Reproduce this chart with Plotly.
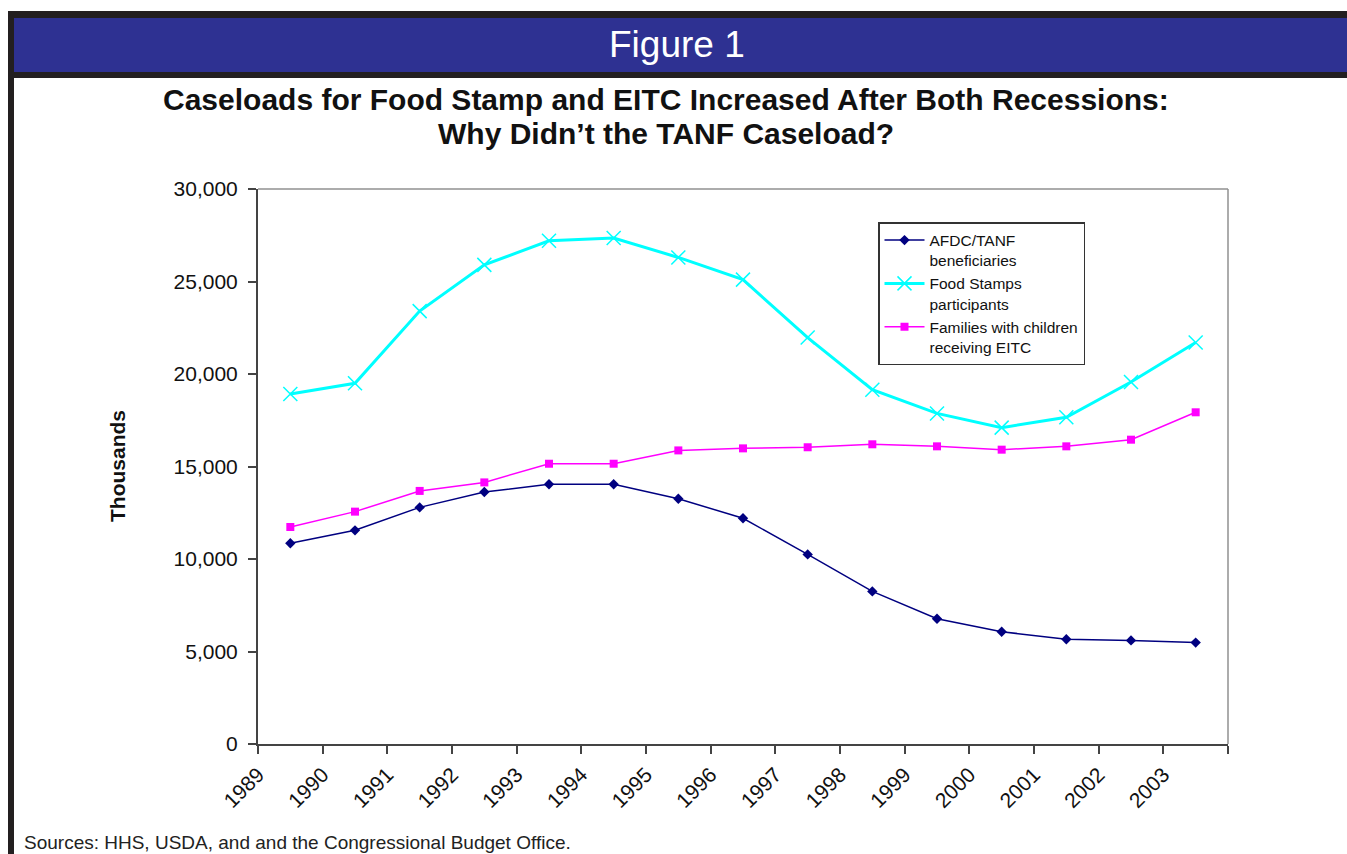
import plotly.graph_objects as go

# Fiscal years shown on the category axis
years = list(range(1989, 2004))

# Caseloads, in thousands
afdc_tanf = [10850, 11550, 12790, 13620, 14040, 14040, 13260, 12200,
             10250, 8250, 6770, 6070, 5660, 5600, 5480]
food_stamps = [18920, 19500, 23400, 25900, 27200, 27350, 26300, 25100,
               21970, 19150, 17870, 17100, 17660, 19570, 21700]
eitc_families = [11730, 12560, 13680, 14140, 15150, 15150, 15870, 15980,
                 16040, 16200, 16090, 15910, 16090, 16450, 17930]

y_ticks = [0, 5000, 10000, 15000, 20000, 25000, 30000]

# Plot-area geometry in pixels (used to place decorations in paper units)
W, H = 1347, 854
L, R, T, B = 258, 1228, 189, 744


def px(x):
    return (x - L) / (R - L)


def py(y):
    return (B - y) / (B - T)


# Each year occupies one slot between boundary ticks; points sit mid-slot
x_pos = [y + 0.5 for y in years]

fig = go.Figure()

fig.add_trace(go.Scatter(
    x=x_pos, y=afdc_tanf, mode="lines+markers",
    name="AFDC/TANF<br>beneficiaries",
    line=dict(color="#000080", width=1.5),
    marker=dict(symbol="diamond", size=8, color="#000080"),
))
fig.add_trace(go.Scatter(
    x=x_pos, y=food_stamps, mode="lines+markers",
    name="Food Stamps<br>participants",
    line=dict(color="#00FFFF", width=3),
    marker=dict(symbol="x-thin-open", size=14,
                line=dict(color="#00FFFF", width=1.5), color="#00FFFF"),
))
fig.add_trace(go.Scatter(
    x=x_pos, y=eitc_families, mode="lines+markers",
    name="Families with children<br>receiving EITC",
    line=dict(color="#FF00FF", width=1.5),
    marker=dict(symbol="square", size=8, color="#FF00FF"),
))

axis_font = dict(family="Liberation Sans, Arial, sans-serif", size=21, color="#111111")

fig.update_xaxes(
    range=[years[0], years[-1] + 1],
    tickmode="array",
    tickvals=years + [years[-1] + 1],
    ticktext=[str(y) for y in years] + [""],
    tickangle=-45,
    ticks="outside", ticklen=8, tickwidth=1.5, tickcolor="#444444",
    showline=True, linecolor="#444444", linewidth=2,
    showgrid=False, zeroline=False,
    tickfont=axis_font,
)
fig.update_yaxes(
    range=[0, 30000],
    tickmode="array",
    tickvals=y_ticks,
    ticktext=[f"{v:,}" for v in y_ticks],
    ticks="outside", ticklen=8, tickwidth=1.5, tickcolor="#444444",
    ticklabelstandoff=6,
    showline=True, linecolor="#444444", linewidth=2,
    showgrid=False, zeroline=False,
    tickfont=axis_font,
)

shapes = [
    # plot-area frame (top and right edges are lighter)
    dict(type="line", xref="paper", yref="paper", x0=0, x1=1, y0=1, y1=1,
         line=dict(color="#909090", width=1.5)),
    dict(type="line", xref="paper", yref="paper", x0=1, x1=1, y0=0, y1=1,
         line=dict(color="#909090", width=1.5)),
    # page frame: dark header border, blue banner, left rule
    dict(type="rect", xref="paper", yref="paper", layer="below",
         x0=px(8), x1=px(W + 5), y0=py(78), y1=py(11),
         fillcolor="#231F20", line=dict(width=0)),
    dict(type="rect", xref="paper", yref="paper", layer="below",
         x0=px(14), x1=px(W + 5), y0=py(72), y1=py(18),
         fillcolor="#2E3192", line=dict(width=0)),
    dict(type="rect", xref="paper", yref="paper", layer="below",
         x0=px(8), x1=px(14), y0=py(H + 5), y1=py(11),
         fillcolor="#231F20", line=dict(width=0)),
]

annotations = [
    dict(text="Figure 1", xref="paper", yref="paper", x=px(677), y=py(44),
         xanchor="center", yanchor="middle", showarrow=False,
         font=dict(family="Liberation Sans, Arial, sans-serif", size=37, color="white")),
    dict(text="<b>Caseloads for Food Stamp and EITC Increased After Both Recessions:</b>",
         xref="paper", yref="paper", x=px(666), y=py(99),
         xanchor="center", yanchor="middle", showarrow=False,
         font=dict(family="Liberation Sans, Arial, sans-serif", size=30, color="#111111")),
    dict(text="<b>Why Didn\u2019t the TANF Caseload?</b>",
         xref="paper", yref="paper", x=px(666), y=py(134),
         xanchor="center", yanchor="middle", showarrow=False,
         font=dict(family="Liberation Sans, Arial, sans-serif", size=30, color="#111111")),
    dict(text="<b>Thousands</b>", xref="paper", yref="paper",
         x=px(117), y=py(466), textangle=-90,
         xanchor="center", yanchor="middle", showarrow=False,
         font=dict(family="Liberation Sans, Arial, sans-serif", size=21, color="#111111")),
    dict(text="Sources: HHS, USDA, and and the Congressional Budget Office.",
         xref="paper", yref="paper", x=px(22), y=py(842),
         xanchor="left", yanchor="middle", showarrow=False,
         font=dict(family="Liberation Sans Narrow, Arial Narrow, Liberation Sans, sans-serif",
                   size=19, color="#222222")),
]

fig.update_layout(
    width=W, height=H,
    margin=dict(l=L, r=W - R, t=T, b=H - B, autoexpand=False),
    paper_bgcolor="white", plot_bgcolor="white",
    showlegend=True,
    legend=dict(
        x=px(878), y=py(222), xanchor="left", yanchor="top",
        bgcolor="white", bordercolor="#333333", borderwidth=1.5,
        font=dict(family="Liberation Sans, Arial, sans-serif", size=15.5, color="#111111"),
        valign="top", itemwidth=40,
    ),
    shapes=shapes,
    annotations=annotations,
)

fig.write_html("out.html")
